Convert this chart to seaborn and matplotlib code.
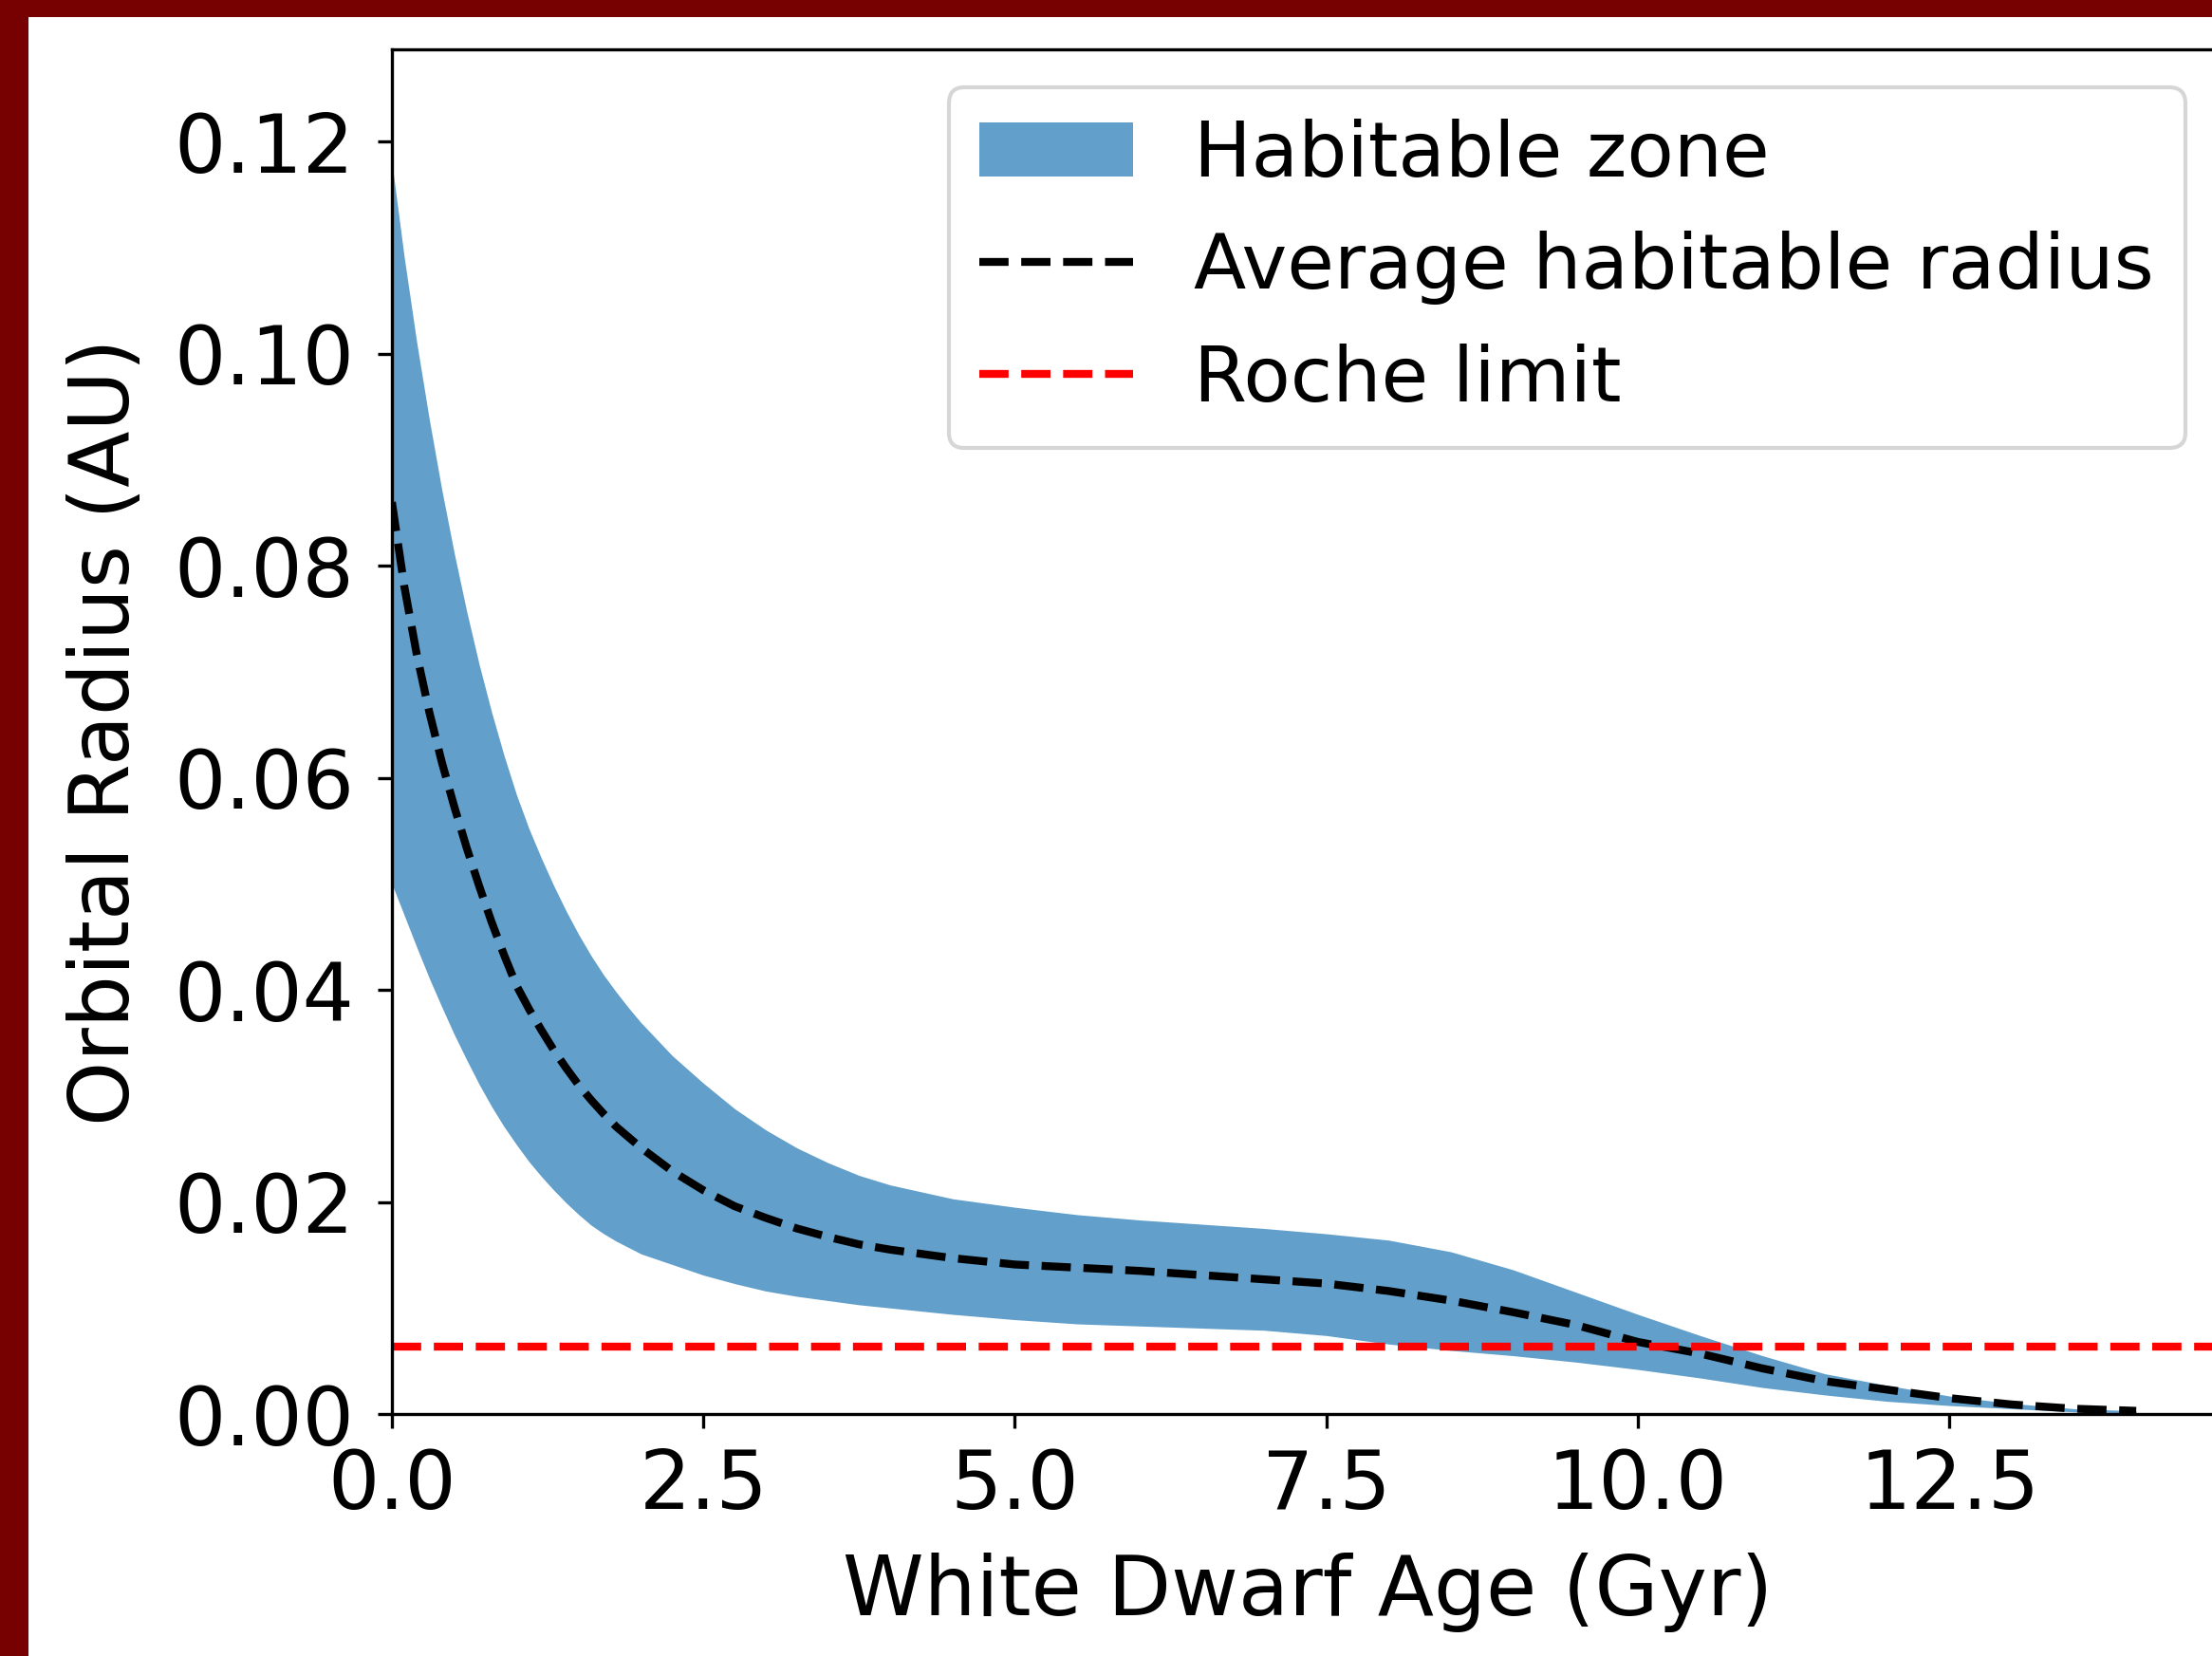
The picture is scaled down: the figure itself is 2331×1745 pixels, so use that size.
import numpy as np
import pandas as pd
import matplotlib
matplotlib.use("Agg")
import matplotlib.pyplot as plt
from matplotlib.patches import Rectangle
import seaborn as sns

# ---- data ----
age_gyr = [0, 0.1, 0.2, 0.3, 0.4, 0.5, 0.6, 0.7, 0.8, 0.9,
           1.0, 1.1, 1.2, 1.3, 1.4, 1.5, 1.6, 1.7, 1.8, 1.9,
           2.0, 2.25, 2.5, 2.75, 3.0, 3.25, 3.5, 3.75, 4.0, 4.5,
           5.0, 5.5, 6.0, 6.5, 7.0, 7.5, 8.0, 8.5, 9.0, 9.5,
           10.0, 10.5, 11.0, 11.5, 12.0, 12.5, 13.0, 13.5, 14.0]

hz_outer = [0.1180, 0.1090, 0.1010, 0.0938, 0.0872, 0.0812, 0.0757, 0.0707, 0.0662, 0.0621,
            0.0584, 0.0552, 0.0524, 0.0498, 0.0474, 0.0452, 0.0432, 0.0414, 0.0398, 0.0383,
            0.0369, 0.0338, 0.0312, 0.0288, 0.0268, 0.0251, 0.0237, 0.0225, 0.0216, 0.0203,
            0.0195, 0.0188, 0.0183, 0.0179, 0.0175, 0.0170, 0.0164, 0.0153, 0.0136, 0.0115,
            0.0094, 0.0074, 0.0055, 0.0038, 0.0027, 0.0017, 0.0010, 0.0005, 0.0003]

hz_inner = [0.0500, 0.0470, 0.0440, 0.0411, 0.0384, 0.0358, 0.0334, 0.0311, 0.0290, 0.0271,
            0.0254, 0.0238, 0.0224, 0.0211, 0.0199, 0.0188, 0.0178, 0.0170, 0.0163, 0.0157,
            0.0151, 0.0141, 0.0131, 0.0123, 0.0116, 0.0111, 0.0107, 0.0103, 0.0100, 0.0094,
            0.0089, 0.0085, 0.0083, 0.0081, 0.0079, 0.0074, 0.0066, 0.0060, 0.0055, 0.0049,
            0.0042, 0.0034, 0.0025, 0.0018, 0.0012, 0.0008, 0.0005, 0.0002, 0.0001]

hz_average = [0.0860, 0.0780, 0.0716, 0.0662, 0.0615, 0.0573, 0.0534, 0.0498, 0.0464, 0.0433,
              0.0404, 0.0382, 0.0362, 0.0343, 0.0326, 0.0310, 0.0296, 0.0283, 0.0271, 0.0261,
              0.0251, 0.0229, 0.0211, 0.0196, 0.0185, 0.0175, 0.0167, 0.0160, 0.0155, 0.0147,
              0.0141, 0.0138, 0.0135, 0.0131, 0.0127, 0.0123, 0.0116, 0.0107, 0.0096, 0.0084,
              0.0068, 0.0057, 0.0043, 0.0031, 0.0023, 0.0015, 0.0009, 0.0005, 0.0003]

roche_limit = 0.00635

labels = ["Habitable zone", "Average habitable radius", "Roche limit"]
x_label = "White Dwarf Age (Gyr)"
y_label = "Orbital Radius (AU)"

df = pd.DataFrame({"age": age_gyr, "outer": hz_outer,
                   "inner": hz_inner, "avg": hz_average})

# ---- figure ----
plt.rcParams.update({
    "font.family": ["DejaVu Sans"],
    "font.size": 20,
    "axes.linewidth": 0.8,
})

W, H = 2331, 1745
DPI = 300
fig = plt.figure(figsize=(W / DPI, H / DPI), dpi=DPI, facecolor="white")

# axes position in pixels (extends a bit beyond the right edge like the cropped original)
left_px, right_px, top_px, bottom_px = 413, 2343, 52, 1490
ax = fig.add_axes([left_px / W, 1 - bottom_px / H,
                   (right_px - left_px) / W, (bottom_px - top_px) / H])
ax.set_facecolor("white")

ax.fill_between(df["age"], df["inner"], df["outer"], color="C0", alpha=0.7,
                linewidth=0, label=labels[0])
sns.lineplot(data=df, x="age", y="avg", color="black", linestyle="--",
             linewidth=2.0, label=labels[1], ax=ax)
ax.axhline(roche_limit, color="red", linestyle="--", linewidth=2.0, label=labels[2])

ax.set_xlim(0, 14.7)
ax.set_ylim(0, 0.1287)
ax.set_xticks([0, 2.5, 5.0, 7.5, 10.0, 12.5])
ax.set_yticks([0, 0.02, 0.04, 0.06, 0.08, 0.10, 0.12])
ax.set_xlabel(x_label, fontsize=20.8, labelpad=6.5)
ax.set_ylabel(y_label, fontsize=20.8, labelpad=7)
ax.tick_params(axis="both", labelsize=20.5, direction="out", length=3.5, width=0.8)
ax.tick_params(axis="y", pad=6)
ax.tick_params(axis="x", pad=5)

ax.legend(loc="upper right", fontsize=19.4, framealpha=0.8)

# maroon frame of the slide (top and left)
maroon = "#770000"
fig.patches.append(Rectangle((0, 1 - 18 / H), 1, 18 / H, transform=fig.transFigure,
                             facecolor=maroon, edgecolor="none", zorder=10))
fig.patches.append(Rectangle((0, 0), 30 / W, 1, transform=fig.transFigure,
                             facecolor=maroon, edgecolor="none", zorder=10))

fig.savefig("out.png", dpi=DPI, facecolor="white")
